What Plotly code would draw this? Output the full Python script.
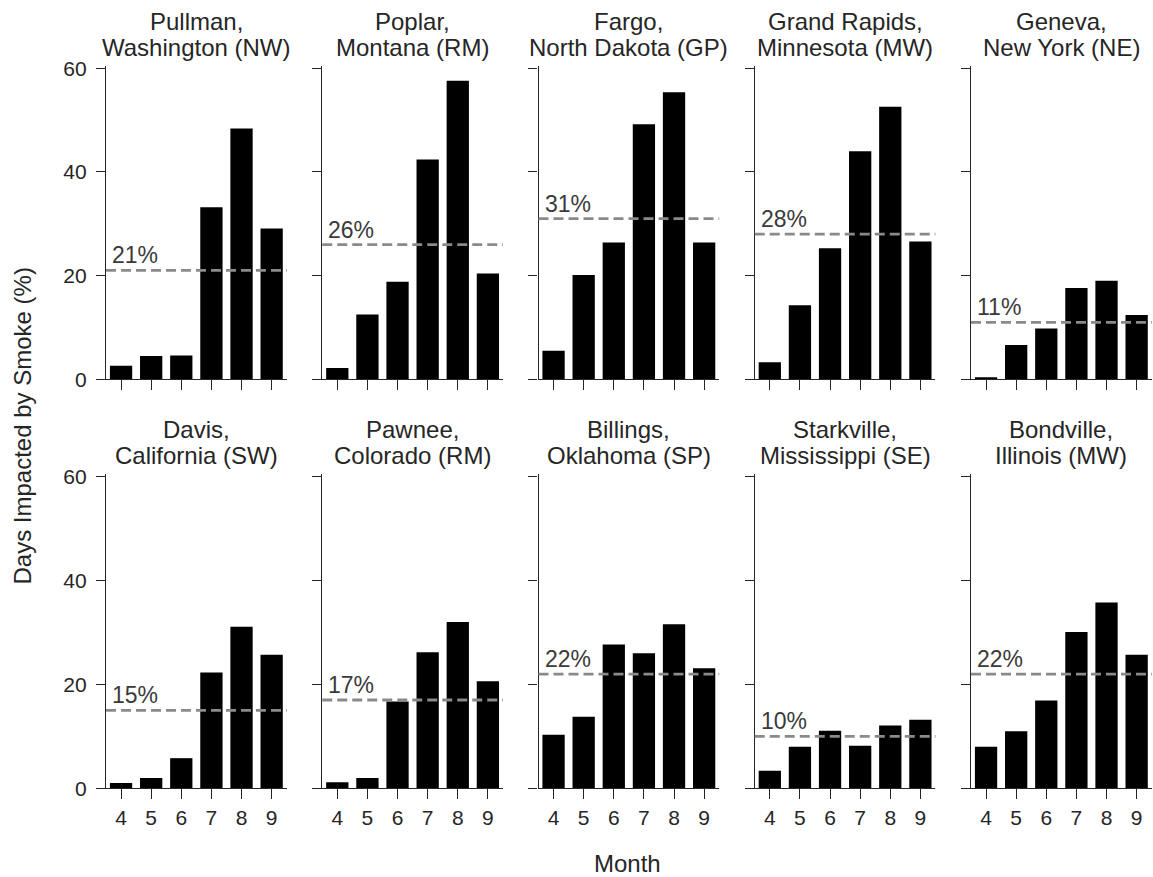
import plotly.graph_objects as go

months = ["4", "5", "6", "7", "8", "9"]
site_line1 = ["Pullman,", "Poplar,", "Fargo,", "Grand Rapids,", "Geneva,",
              "Davis,", "Pawnee,", "Billings,", "Starkville,", "Bondville,"]
site_line2 = ["Washington (NW)", "Montana (RM)", "North Dakota (GP)", "Minnesota (MW)", "New York (NE)",
              "California (SW)", "Colorado (RM)", "Oklahoma (SP)", "Mississippi (SE)", "Illinois (MW)"]

pullman = [2.6, 4.5, 4.6, 33.2, 48.4, 29.1]
poplar = [2.2, 12.5, 18.8, 42.4, 57.6, 20.4]
fargo = [5.5, 20.1, 26.4, 49.2, 55.4, 26.4]
grand_rapids = [3.3, 14.3, 25.3, 44.0, 52.6, 26.6]
geneva = [0.4, 6.6, 9.8, 17.6, 19.0, 12.4]
davis = [1.0, 2.0, 5.8, 22.3, 31.1, 25.7]
pawnee = [1.15, 2.0, 16.7, 26.2, 32.0, 20.6]
billings = [10.3, 13.8, 27.7, 26.0, 31.6, 23.1]
starkville = [3.4, 8.0, 11.1, 8.2, 12.1, 13.2]
bondville = [8.0, 11.0, 16.9, 30.1, 35.8, 25.7]
series = [pullman, poplar, fargo, grand_rapids, geneva,
          davis, pawnee, billings, starkville, bondville]
season_mean = [21, 26, 31, 28, 11, 15, 17, 22, 10, 22]

W, H = 1153, 877
FONT = "Liberation Sans, Arial, sans-serif"
TXT = "#262626"

fig = go.Figure()
layout = dict(
    width=W, height=H,
    margin=dict(l=0, r=0, t=0, b=0, pad=0, autoexpand=False),
    paper_bgcolor="white", plot_bgcolor="white",
    showlegend=False,
    font=dict(family=FONT, size=21, color=TXT),
)

col_left = [106 + 216.25 * i for i in range(5)]
col_w = 180.7
row_px = [(65.7, 379.3), (474.1, 788.3)]

annotations = []
shapes = []
for k in range(10):
    r, c = divmod(k, 5)
    n = k + 1
    sx = "" if n == 1 else str(n)
    x0 = col_left[c] / W
    x1 = (col_left[c] + col_w) / W
    ytop, ybot = row_px[r]
    y0 = 1 - ybot / H
    y1 = 1 - ytop / H
    fig.add_trace(go.Bar(x=months, y=series[k], marker=dict(color="black", line=dict(width=0)),
                         xaxis="x" + sx, yaxis="y" + sx, width=0.74))
    layout["xaxis" + sx] = dict(
        domain=[x0, x1], anchor="y" + sx, type="category", range=[-0.5, 5.5],
        automargin=False,
        showline=True, linecolor=TXT, linewidth=1.3, ticks="outside", ticklen=10,
        tickwidth=1.3, tickcolor=TXT, showgrid=False, zeroline=False,
        showticklabels=(r == 1), tickfont=dict(size=21, color=TXT),
    )
    layout["yaxis" + sx] = dict(
        domain=[y0, y1], anchor="x" + sx, range=[0, 60.5],
        automargin=False,
        tickvals=[0, 20, 40, 60], showline=True, linecolor=TXT, linewidth=1.3,
        ticks="outside", ticklen=9, tickwidth=1.3, tickcolor=TXT,
        showgrid=False, zeroline=False, showticklabels=(c == 0),
        ticklabelstandoff=5,
        tickfont=dict(size=21, color=TXT),
    )
    shapes.append(dict(type="line", xref="x" + sx + " domain", yref="y" + sx,
                       x0=0, x1=1, y0=season_mean[k], y1=season_mean[k],
                       line=dict(color="#8a8a8a", width=2.8, dash="10px,5px"), layer="above"))
    annotations.append(dict(xref="x" + sx + " domain", yref="y" + sx, x=0, y=season_mean[k],
                            text=f"{season_mean[k]}%", showarrow=False, xanchor="left",
                            yanchor="bottom", xshift=4, yshift=0,
                            font=dict(size=23, color="#3a3a3a")))
    cx = (col_left[c] + col_w / 2) / W
    base = 0 if r == 0 else 408
    annotations.append(dict(xref="paper", yref="paper", x=cx, y=1 - (base + 21.5) / H,
                            text=site_line1[k], showarrow=False, xanchor="center", yanchor="middle",
                            font=dict(size=24, color=TXT)))
    annotations.append(dict(xref="paper", yref="paper", x=cx, y=1 - (base + 47.5) / H,
                            text=site_line2[k], showarrow=False, xanchor="center", yanchor="middle",
                            font=dict(size=24, color=TXT)))

annotations.append(dict(xref="paper", yref="paper", x=22 / W, y=1 - 426.5 / H,
                        text="Days Impacted by Smoke (%)", showarrow=False, textangle=-90,
                        xanchor="center", yanchor="middle", font=dict(size=24, color=TXT)))
annotations.append(dict(xref="paper", yref="paper", x=628 / W, y=1 - 863 / H,
                        text="Month", showarrow=False, xanchor="center", yanchor="middle",
                        font=dict(size=24, color=TXT)))

layout["annotations"] = annotations
layout["shapes"] = shapes
fig.update_layout(**layout)
fig.write_html("out.html")
